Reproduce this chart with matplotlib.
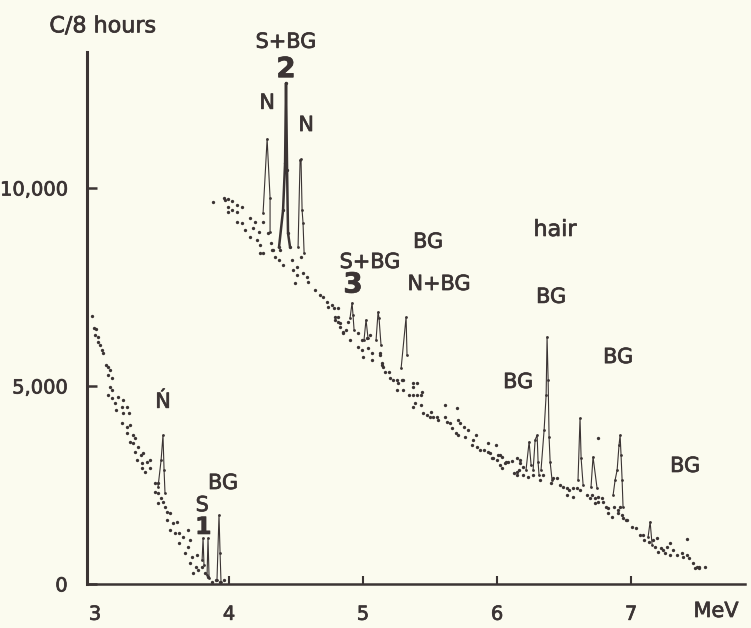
import matplotlib.pyplot as plt
import matplotlib.patheffects as pe

# counts per 8 hours vs gamma energy (MeV)
# lower branch, 3 - 4 MeV
low_e = [2.98, 2.99, 3.01, 3.00, 3.02, 3.02, 3.04, 3.05, 3.06, 3.08,
         3.10, 3.11, 3.10, 3.13, 3.11, 3.13, 3.10, 3.13, 3.17, 3.21,
         3.15, 3.20, 3.24, 3.16, 3.21, 3.25, 3.20, 3.24, 3.26, 3.24,
         3.28, 3.30, 3.26, 3.28, 3.32, 3.30, 3.34, 3.36, 3.31, 3.35,
         3.39, 3.41, 3.35, 3.37, 3.41, 3.45, 3.47, 3.45, 3.47, 3.49,
         3.51, 3.47, 3.52, 3.54, 3.56, 3.54, 3.58, 3.61, 3.56, 3.60,
         3.63, 3.66, 3.69, 3.63, 3.69, 3.71, 3.67, 3.72, 3.76, 3.71,
         3.75, 3.73, 3.77, 3.80, 3.82, 3.84, 3.87, 3.90, 3.93, 3.96]
low_c = [6770, 6460, 6440, 6290, 6240, 6110, 6030, 5910, 5830, 5530,
         5480, 5400, 5280, 5200, 4970, 4900, 4770, 4700, 4720, 4650,
         4570, 4470, 4470, 4390, 4320, 4320, 4070, 3960, 4010, 3810,
         3760, 3690, 3590, 3560, 3460, 3330, 3260, 3310, 3130, 3060,
         3080, 3130, 2930, 2830, 2930, 2550, 2550, 2320, 2300, 2170,
         2070, 2050, 1940, 1820, 1790, 1620, 1540, 1570, 1360, 1290,
         1290, 1190, 1360, 1040, 930, 1110, 780, 680, 730, 530,
         430, 280, 350, 430, 280, 180, 50, 100, 50, 100]

# upper branch, 4 - 7.6 MeV
high_e = [3.88, 3.96, 3.97, 3.99, 4.02, 3.99, 4.02, 4.06, 4.10, 3.99,
          4.06, 4.06, 4.10, 4.16, 4.19, 4.25, 4.12, 4.18, 4.22, 4.16,
          4.21, 4.29, 4.23, 4.31, 4.32, 4.23, 4.33, 4.38, 4.34, 4.37,
          4.40, 4.25, 4.48, 4.47, 4.51, 4.54, 4.51, 4.49, 4.55, 4.58,
          4.59, 4.64, 4.68, 4.70, 4.73, 4.74, 4.78, 4.79, 4.81, 4.83,
          4.85, 4.77, 4.81, 4.81, 4.79, 4.83, 4.85, 4.87, 4.89, 4.90,
          4.96, 4.99, 5.03, 5.05, 4.96, 4.99, 5.00, 5.04, 5.07, 5.07,
          5.13, 5.14, 5.15, 5.13, 5.14, 5.16, 5.19, 5.20, 5.22, 5.25,
          5.26, 5.29, 5.30, 5.25, 5.30, 5.37, 5.37, 5.40, 5.34, 5.37,
          5.40, 5.43, 5.44, 5.39, 5.37, 5.43, 5.61, 5.70, 5.45, 5.48,
          5.50, 5.51, 5.52, 5.55, 5.56, 5.61, 5.63, 5.65, 5.66, 5.71,
          5.72, 5.75, 5.78, 5.69, 5.71, 5.76, 5.84, 5.82, 5.81, 5.85,
          5.87, 5.93, 5.99, 5.93, 5.95, 5.97, 6.01, 6.04, 6.02, 6.06,
          6.08, 6.11, 6.15, 6.13, 6.15, 6.17, 6.19, 5.90, 5.96, 6.00,
          6.02, 6.04, 6.07, 6.16, 6.17, 6.15, 6.19, 6.23, 6.27, 6.32,
          6.34, 6.40, 6.42, 6.45, 6.47, 6.49, 6.52, 6.54, 6.57, 6.60,
          6.52, 6.57, 6.62, 6.67, 6.69, 6.71, 6.73, 6.75, 6.78, 6.73,
          6.75, 6.79, 6.81, 6.83, 6.83, 6.86, 6.90, 6.92, 6.93, 6.94,
          6.97, 6.87, 6.90, 6.96, 7.01, 7.04, 7.07, 7.09, 7.10, 7.13,
          7.16, 7.19, 7.18, 7.22, 7.24, 7.20, 7.25, 7.27, 7.29, 7.31,
          7.29, 7.34, 7.38, 7.39, 7.42, 7.43, 7.46, 7.49, 7.51, 7.55,
          7.48, 7.51, 7.42, 6.75]
high_c = [9650, 9750, 9700, 9720, 9670, 9520, 9440, 9570, 9520, 9390,
          9390, 9140, 9120, 9240, 9140, 9140, 8940, 8990, 8890, 8760,
          8690, 8860, 8560, 8610, 8430, 8360, 8430, 8430, 8260, 8180,
          8050, 8360, 7930, 8180, 8000, 8260, 7800, 7600, 7850, 7750,
          7630, 7420, 7300, 7250, 7120, 6990, 6970, 6740, 6620, 6490,
          6360, 7040, 6970, 6740, 6670, 6590, 6340, 6410, 6620, 6160,
          6340, 6160, 6210, 6290, 5980, 5910, 5730, 5960, 5830, 5660,
          5780, 5580, 5480, 5830, 5530, 5350, 5350, 5200, 5150, 5150,
          5080, 5150, 5150, 4900, 4900, 5080, 4970, 5080, 4770, 4770,
          4770, 4770, 4850, 4570, 4470, 4520, 4520, 4440, 4320, 4270,
          4220, 4340, 4220, 4220, 4140, 4220, 4090, 4070, 3940, 4140,
          4070, 3960, 3890, 3810, 3760, 3710, 3760, 3640, 3510, 3460,
          3380, 3560, 3510, 3330, 3310, 3180, 3260, 3210, 3000, 3060,
          3080, 3110, 3180, 2800, 2830, 3060, 2950, 3380, 3180, 3130,
          3260, 2930, 3080, 2880, 3130, 2750, 2750, 2700, 2750, 2630,
          2750, 2550, 2680, 2680, 2500, 2450, 2420, 2370, 2420, 2420,
          2250, 2200, 2370, 2250, 2170, 2250, 2170, 2200, 2170, 2050,
          2070, 2070, 1940, 1920, 1790, 1690, 1870, 1940, 1740, 1670,
          1620, 1940, 1790, 1620, 1440, 1410, 1240, 1240, 1110, 1060,
          1110, 1160, 930, 910, 860, 810, 780, 930, 1040, 860,
          730, 730, 780, 680, 730, 660, 530, 430, 430, 430,
          400, 400, 1140, 3690]

# peaks (joined by lines in the original)
pk_n1_e = [3.470, 3.493, 3.507, 3.515, 3.522]
pk_n1_c = [2450, 3130, 3760, 2880, 2300]
pk_s1a_e = [3.799, 3.806, 3.813]
pk_s1a_c = [610, 1160, 480]
pk_s1b_e = [3.836, 3.843, 3.851]
pk_s1b_c = [230, 1160, 150]
pk_bg1_e = [3.910, 3.925, 3.933, 3.940]
pk_bg1_c = [100, 1740, 780, 50]
pk_n2_e = [4.254, 4.284, 4.306, 4.306]
pk_n2_c = [9370, 11240, 9750, 8890]
pk_s2_e = [4.373, 4.403, 4.418, 4.425, 4.433, 4.440, 4.455]
pk_s2_c = [8510, 9440, 10630, 12650, 10450, 8860, 8510]
pk_n3_e = [4.515, 4.530, 4.537, 4.545, 4.552, 4.560]
pk_n3_c = [8510, 10710, 10730, 9440, 9120, 8360]
pk_s3_e = [4.903, 4.918, 4.925, 4.933]
pk_s3_c = [6720, 7100, 6790, 6410]
pk_bg2_e = [5.007, 5.022, 5.037]
pk_bg2_c = [6160, 6670, 6210]
pk_bg3_e = [5.097, 5.112, 5.119, 5.134]
pk_bg3_c = [6160, 6870, 6720, 6030]
pk_nbg_e = [5.284, 5.321, 5.328]
pk_nbg_c = [5450, 6740, 5780]
pk_bg4a_e = [6.216, 6.239, 6.254]
pk_bg4a_c = [2880, 3590, 3000]
pk_bg4b_e = [6.269, 6.284, 6.299, 6.306, 6.313]
pk_bg4b_c = [2880, 3640, 3760, 3080, 2750]
pk_bg5_e = [6.328, 6.351, 6.366, 6.373, 6.381, 6.388, 6.396, 6.410]
pk_bg5_c = [2880, 3890, 4770, 6240, 5150, 3710, 3080, 2630]
pk_bg6_e = [6.604, 6.619, 6.627, 6.642]
pk_bg6_c = [2630, 4190, 3180, 2500]
pk_bg7_e = [6.701, 6.716, 6.746]
pk_bg7_c = [2450, 3210, 2420]
pk_bg8_e = [6.866, 6.881, 6.896, 6.910, 6.918, 6.925, 6.933, 6.940]
pk_bg8_c = [2250, 2630, 2880, 3510, 3760, 3260, 2630, 1940]
pk_bg9_e = [7.127, 7.142, 7.157]
pk_bg9_c = [1190, 1570, 985]

peaks = [(pk_n1_e, pk_n1_c), (pk_s1a_e, pk_s1a_c), (pk_s1b_e, pk_s1b_c),
         (pk_bg1_e, pk_bg1_c), (pk_n2_e, pk_n2_c), (pk_n3_e, pk_n3_c),
         (pk_s3_e, pk_s3_c), (pk_bg2_e, pk_bg2_c), (pk_bg3_e, pk_bg3_c),
         (pk_nbg_e, pk_nbg_c), (pk_bg4a_e, pk_bg4a_c), (pk_bg4b_e, pk_bg4b_c),
         (pk_bg5_e, pk_bg5_c), (pk_bg6_e, pk_bg6_c), (pk_bg7_e, pk_bg7_c),
         (pk_bg8_e, pk_bg8_c), (pk_bg9_e, pk_bg9_c)]

x_ticks = [3, 4, 5, 6, 7]
x_tick_marks = [4, 5, 6, 7]
y_ticks = [0, 5000, 10000]
y_labels = ["0", "5,000", "10,000"]

bg = '#fbfbef'
ink = '#3b3434'
plt.rcParams['font.family'] = ['DejaVu Sans']
heavy = [pe.withStroke(linewidth=0.5, foreground=ink)]

fig = plt.figure(figsize=(7.51, 6.28), dpi=100, facecolor=bg)
ax = fig.add_axes([87/751, 44/628, 658/751, 532/628], facecolor=bg)

ax.plot(low_e, low_c, 'o', ms=2.4, color=ink, mew=0)
ax.plot(high_e, high_c, 'o', ms=2.4, color=ink, mew=0)
for e, c in peaks:
    ax.plot(e, c, '-', lw=0.8, color=ink, marker='o', ms=2.0, mew=0)
ax.plot(pk_s2_e, pk_s2_c, '-', lw=1.8, color=ink, marker='o', ms=2.4, mew=0)

ax.set_xlim(2.94, 7.85)
ax.set_ylim(0, 13434)
for s in ['top', 'right']:
    ax.spines[s].set_visible(False)
ax.spines['left'].set_linewidth(2.2)
ax.spines['bottom'].set_linewidth(1.8)
ax.spines['left'].set_color(ink)
ax.spines['bottom'].set_color(ink)

# labels on major ticks, marks only on minor ticks (none at 3)
ax.xaxis.remove_overlapping_locs = False
ax.set_xticks(x_ticks)
ax.set_xticklabels([str(v) for v in x_ticks])
ax.set_xticks(x_tick_marks, minor=True)
ax.set_yticks(y_ticks)
ax.set_yticklabels(y_labels)
ax.tick_params(axis='x', which='major', length=0, labelsize=14,
               labelcolor=ink, pad=15)
ax.tick_params(axis='x', which='minor', direction='in', length=6, width=1.5,
               color=ink)
ax.tick_params(axis='y', direction='in', length=7, width=1.8, color=ink,
               labelsize=14, labelcolor=ink, pad=14)
for lab in ax.get_xticklabels() + ax.get_yticklabels():
    lab.set_path_effects(heavy)

fig.text(0.137, 0.958, "C/8 hours", fontsize=16, color=ink, ha='center',
         va='center', path_effects=heavy)
fig.text(716/751, 1 - 611/628, "MeV", fontsize=15, color=ink, ha='center',
         va='center', path_effects=heavy)

labels = [
    (4.425, 13690, "S+BG", 15, 'normal'),
    (4.425, 13000, "2", 20, 'bold'),
    (4.284, 12150, "N", 15, 'normal'),
    (4.575, 11590, "N", 15, 'normal'),
    (6.433, 8940, "hair", 16, 'normal'),
    (5.485, 8640, "BG", 15, 'normal'),
    (5.052, 8130, "S+BG", 15, 'normal'),
    (4.925, 7560, "3", 20, 'bold'),
    (5.567, 7575, "N+BG", 15, 'normal'),
    (6.403, 7250, "BG", 15, 'normal'),
    (6.903, 5730, "BG", 15, 'normal'),
    (6.157, 5100, "BG", 15, 'normal'),
    (7.403, 2980, "BG", 15, 'normal'),
    (3.507, 4600, "Ń", 15, 'normal'),
    (3.955, 2550, "BG", 15, 'normal'),
    (3.800, 1990, "S", 15, 'normal'),
    (3.808, 1440, "1", 17, 'bold'),
]
for x, y, t, fs, fw in labels:
    ax.text(x, y, t, fontsize=fs, fontweight=fw, color=ink, ha='center',
            va='center', clip_on=False, path_effects=heavy)

plt.savefig('out.png', dpi=100, facecolor=bg)
